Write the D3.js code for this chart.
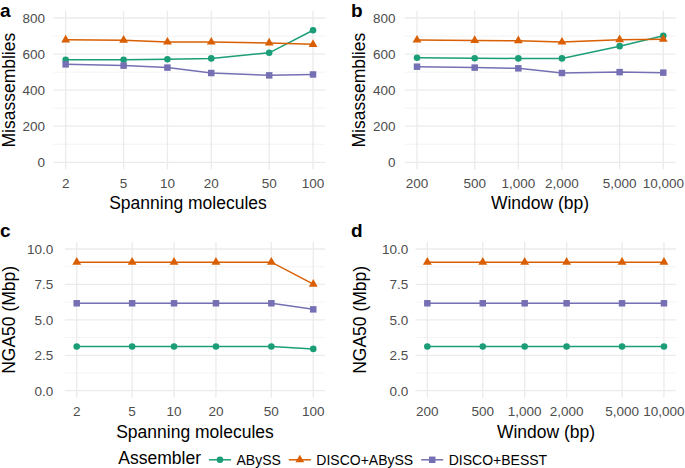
<!DOCTYPE html>
<html>
<head>
<meta charset="utf-8">
<script src="https://cdn.jsdelivr.net/npm/d3@7"></script>
<style>
  html, body { margin: 0; padding: 0; background: #ffffff; }
  svg { display: block; font-family: "Liberation Sans", Arial, Helvetica, sans-serif; }
</style>
</head>
<body>
<svg id="chart" width="685" height="468"></svg>
<script>
// ---------------- data ----------------
const assemblers = ["ABySS", "DISCO+ABySS", "DISCO+BESST"];
const assemblerColors = ["#1B9E77", "#D95F02", "#7570B3"];
const assemblerShapes = ["circle", "triangle", "square"];

const spanningMolecules = [2, 5, 10, 20, 50, 100];
const windowBp = [200, 500, 1000, 2000, 5000, 10000];

// Panel a: Misassemblies vs spanning molecules
const misSpanABySS      = [569, 569, 571, 576, 607, 732];
const misSpanDiscoABySS = [679, 677, 667, 667, 662, 654];
const misSpanDiscoBESST = [543, 536, 525, 495, 482, 487];

// Panel b: Misassemblies vs window
const misWinABySS      = [580, 577, 576, 576, 644, 702];
const misWinDiscoABySS = [678, 676, 674, 667, 680, 682];
const misWinDiscoBESST = [530, 525, 521, 495, 500, 497];

// Panel c: NGA50 vs spanning molecules
const ngaSpanABySS      = [3.12, 3.12, 3.12, 3.12, 3.12, 2.95];
const ngaSpanDiscoABySS = [9.07, 9.07, 9.07, 9.07, 9.07, 7.52];
const ngaSpanDiscoBESST = [6.17, 6.17, 6.17, 6.17, 6.17, 5.74];

// Panel d: NGA50 vs window
const ngaWinABySS      = [3.12, 3.12, 3.12, 3.12, 3.12, 3.12];
const ngaWinDiscoABySS = [9.07, 9.07, 9.07, 9.07, 9.07, 9.07];
const ngaWinDiscoBESST = [6.17, 6.17, 6.17, 6.17, 6.17, 6.17];

const misTicks = [0, 200, 400, 600, 800];
const misMinor = [100, 300, 500, 700];
const ngaTicks = [0, 2.5, 5, 7.5, 10];
const ngaMinor = [1.25, 3.75, 6.25, 8.75];

// ---------------- layout ----------------
const svg = d3.select("#chart");
const fmtInt = d3.format("d");
const fmtComma = d3.format(",");
const fmt1 = d3.format(".1f");

const panels = [
  { label: "a", xs: spanningMolecules, xFmt: fmtInt, xTitle: "Spanning molecules", yTitle: "Misassemblies",
    series: [misSpanABySS, misSpanDiscoABySS, misSpanDiscoBESST], yTicks: misTicks, yMinor: misMinor, yLim: [0, 800], yFmt: fmtInt,
    box: { x0: 53.3, x1: 325.4, y0: 10.8, y1: 169.5 }, yLabX: 45, yTitleX: 15, xTitleX: 188, xTitleY: 208.5, xTickY: 187.5, labX: 0, labY: 17.2 },
  { label: "b", xs: windowBp, xFmt: fmtComma, xTitle: "Window (bp)", yTitle: "Misassemblies",
    series: [misWinABySS, misWinDiscoABySS, misWinDiscoBESST], yTicks: misTicks, yMinor: misMinor, yLim: [0, 800], yFmt: fmtInt,
    box: { x0: 404.7, x1: 675.6, y0: 10.8, y1: 169.5 }, yLabX: 395.5, yTitleX: 365, xTitleX: 540, xTitleY: 208.5, xTickY: 187.5, labX: 351, labY: 17.2 },
  { label: "c", xs: spanningMolecules, xFmt: fmtInt, xTitle: "Spanning molecules", yTitle: "NGA50 (Mbp)",
    series: [ngaSpanABySS, ngaSpanDiscoABySS, ngaSpanDiscoBESST], yTicks: ngaTicks, yMinor: ngaMinor, yLim: [0, 10], yFmt: fmt1,
    box: { x0: 64.9, x1: 325.1, y0: 241.9, y1: 397.8 }, yLabX: 53.3, yTitleX: 15, xTitleX: 195, xTitleY: 437.5, xTickY: 415.5, labX: 0, labY: 236.8 },
  { label: "d", xs: windowBp, xFmt: fmtComma, xTitle: "Window (bp)", yTitle: "NGA50 (Mbp)",
    series: [ngaWinABySS, ngaWinDiscoABySS, ngaWinDiscoBESST], yTicks: ngaTicks, yMinor: ngaMinor, yLim: [0, 10], yFmt: fmt1,
    box: { x0: 415.5, x1: 675.8, y0: 241.9, y1: 397.8 }, yLabX: 408.3, yTitleX: 366, xTitleX: 546, xTitleY: 437.5, xTickY: 415.5, labX: 351, labY: 236.8 }
];

const symbolTypes = { circle: d3.symbolCircle, triangle: d3.symbolTriangle, square: d3.symbolSquare };
const symbolSizes = { circle: 34, triangle: 34, square: 42 };

panels.forEach(p => {
  const g = svg.append("g");
  const lx0 = Math.log10(d3.min(p.xs)), lx1 = Math.log10(d3.max(p.xs));
  const ex = (lx1 - lx0) * 0.05;
  const x = d3.scaleLog().domain([Math.pow(10, lx0 - ex), Math.pow(10, lx1 + ex)]).range([p.box.x0, p.box.x1]);
  const ey = (p.yLim[1] - p.yLim[0]) * 0.05;
  const y = d3.scaleLinear().domain([p.yLim[0] - ey, p.yLim[1] + ey]).range([p.box.y1, p.box.y0]);

  // minor grid
  g.selectAll(".ymin").data(p.yMinor).enter().append("line")
    .attr("x1", p.box.x0).attr("x2", p.box.x1)
    .attr("y1", d => y(d)).attr("y2", d => y(d))
    .attr("stroke", "#EFEFEF").attr("stroke-width", 0.7);
  // major grid
  g.selectAll(".ymaj").data(p.yTicks).enter().append("line")
    .attr("x1", p.box.x0).attr("x2", p.box.x1)
    .attr("y1", d => y(d)).attr("y2", d => y(d))
    .attr("stroke", "#EBEBEB").attr("stroke-width", 1.3);
  g.selectAll(".xmaj").data(p.xs).enter().append("line")
    .attr("x1", d => x(d)).attr("x2", d => x(d))
    .attr("y1", p.box.y0).attr("y2", p.box.y1)
    .attr("stroke", "#EBEBEB").attr("stroke-width", 1.3);

  // y tick labels
  g.selectAll(".ylab").data(p.yTicks).enter().append("text")
    .attr("x", p.yLabX).attr("y", d => y(d) + 4.8)
    .attr("text-anchor", "end").attr("font-size", 13.5).attr("fill", "#4D4D4D")
    .text(d => p.yFmt(d));
  // x tick labels
  g.selectAll(".xlab").data(p.xs).enter().append("text")
    .attr("x", d => x(d)).attr("y", p.xTickY)
    .attr("text-anchor", "middle").attr("font-size", 13.5).attr("fill", "#4D4D4D")
    .text(d => p.xFmt(d));

  // axis titles
  g.append("text").attr("x", p.xTitleX).attr("y", p.xTitleY)
    .attr("text-anchor", "middle").attr("font-size", 17.5).attr("fill", "#000")
    .text(p.xTitle);
  g.append("text")
    .attr("transform", `translate(${p.yTitleX},${(p.box.y0 + p.box.y1) / 2}) rotate(-90)`)
    .attr("text-anchor", "middle").attr("font-size", 17.5).attr("fill", "#000")
    .text(p.yTitle);

  // panel label
  g.append("text").attr("x", p.labX).attr("y", p.labY)
    .attr("font-size", 19).attr("font-weight", "bold").attr("fill", "#000")
    .text(p.label);

  // series
  const line = d3.line().x(d => x(d[0])).y(d => y(d[1]));
  p.series.forEach((vals, i) => {
    const pts = p.xs.map((xv, j) => [xv, vals[j]]);
    g.append("path").datum(pts).attr("d", line)
      .attr("fill", "none").attr("stroke", assemblerColors[i]).attr("stroke-width", 1.5);
    const shp = assemblerShapes[i];
    g.selectAll(".pt" + i).data(pts).enter().append("path")
      .attr("transform", d => `translate(${x(d[0])},${y(d[1])})`)
      .attr("d", d3.symbol().type(symbolTypes[shp]).size(symbolSizes[shp]))
      .attr("fill", assemblerColors[i]);
  });
});

// ---------------- legend ----------------
const leg = svg.append("g");
const legY = 459.8;
const legTitle = leg.append("text").attr("x", 118.3).attr("y", 464.2)
  .attr("font-size", 17.5).attr("fill", "#000").text("Assembler");
let cx = 118.3 + legTitle.node().getComputedTextLength() + 8;
assemblers.forEach((name, i) => {
  leg.append("line").attr("x1", cx).attr("x2", cx + 22).attr("y1", legY).attr("y2", legY)
    .attr("stroke", assemblerColors[i]).attr("stroke-width", 1.5);
  const shp = assemblerShapes[i];
  leg.append("path").attr("transform", `translate(${cx + 11},${legY})`)
    .attr("d", d3.symbol().type(symbolTypes[shp]).size(symbolSizes[shp]))
    .attr("fill", assemblerColors[i]);
  const t = leg.append("text").attr("x", cx + 27.5).attr("y", 464.5)
    .attr("font-size", 14).attr("fill", "#000").text(name);
  cx = cx + 27.5 + t.node().getComputedTextLength() + 8;
});
</script>
</body>
</html>
